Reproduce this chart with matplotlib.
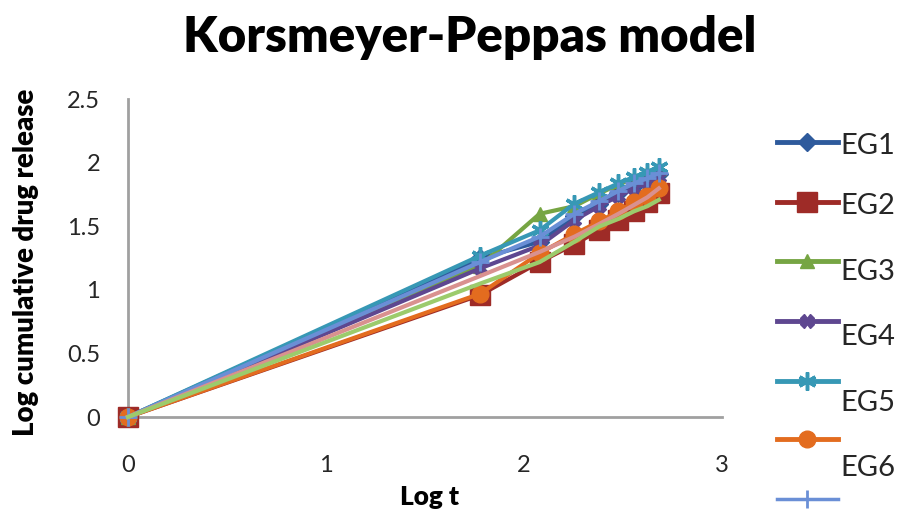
import matplotlib
matplotlib.use("Agg")
import matplotlib.pyplot as plt
from matplotlib.lines import Line2D

# ---- data ----
log_t = [0, 1.778, 2.079, 2.255, 2.380, 2.477, 2.556, 2.623, 2.681]
eg1 = [0, 1.25, 1.38, 1.58, 1.68, 1.76, 1.82, 1.87, 1.91]
eg2 = [0, 0.96, 1.22, 1.36, 1.47, 1.55, 1.62, 1.69, 1.76]
eg3 = [0, 1.19, 1.60, 1.66, 1.76, 1.83, 1.88, 1.92, 1.96]
eg4 = [0, 1.17, 1.35, 1.55, 1.66, 1.74, 1.80, 1.85, 1.89]
eg5 = [0, 1.27, 1.47, 1.68, 1.77, 1.84, 1.89, 1.93, 1.97]
eg6 = [0, 0.97, 1.29, 1.44, 1.54, 1.62, 1.69, 1.74, 1.80]
eg7 = [0, 1.22, 1.42, 1.60, 1.70, 1.78, 1.84, 1.88, 1.92]
extra_pink = [0, 1.11, 1.30, 1.42, 1.52, 1.60, 1.67, 1.73, 1.80]
extra_green = [0, 1.05, 1.22, 1.38, 1.50, 1.56, 1.62, 1.66, 1.71]

labels = ["EG1", "EG2", "EG3", "EG4", "EG5", "EG6", ""]
x_ticks = [0, 1, 2, 3]
y_ticks = [0, 0.5, 1, 1.5, 2, 2.5]
y_tick_labels = ["0", "0.5", "1", "1.5", "2", "2.5"]

W, H = 901, 522
fig = plt.figure(figsize=(W / 100, H / 100), dpi=100)
FONT = "Lato"
TXT = "#262626"

def fx(x):
    return x / W

def fy(y):
    return 1 - y / H

ax = fig.add_axes([fx(128), fy(417), fx(722) - fx(128), fy(99.5) - fy(417)])

styles = [
    dict(color="#2E5A9C", marker="D", ms=9),
    dict(color="#9E2B27", marker="s", ms=14),
    dict(color="#76A543", marker="^", ms=10),
    dict(color="#5E4790", marker="X", ms=10),
    dict(color="#3798B5", marker=(6, 2, 0), ms=13, mew=2.5),
    dict(color="#E36C1F", marker="o", ms=12),
    dict(color="#6A8FD6", marker="+", ms=13, mew=2),
]
series = [eg1, eg2, eg3, eg4, eg5, eg6, eg7]

for vals, st in zip(series, styles):
    kw = dict(st)
    ax.plot(log_t, vals, lw=3, color=kw.pop("color"), marker=kw.pop("marker"),
            ms=kw.pop("ms"), **kw)
ax.plot(log_t, extra_pink, lw=3, color="#D9918F")
ax.plot(log_t, extra_green, lw=3, color="#9CCB6C")

ax.set_xlim(0, 3)
ax.set_ylim(0, 2.5)
ax.set_xticks(x_ticks)
ax.set_yticks(y_ticks)
ax.set_yticklabels(y_tick_labels)
for s in ["top", "right"]:
    ax.spines[s].set_visible(False)
for s in ["left", "bottom"]:
    ax.spines[s].set_color("#A0A0A0")
    ax.spines[s].set_linewidth(2)
    ax.spines[s].set_zorder(0)
ax.tick_params(length=0, labelsize=17, colors=TXT)
ax.tick_params(axis="y", pad=20)
ax.tick_params(axis="x", pad=27)
for lab in ax.get_xticklabels() + ax.get_yticklabels():
    lab.set_fontfamily(FONT)
for ln in ax.get_lines():
    ln.set_clip_on(False)

fig.canvas.draw()
renderer = fig.canvas.get_renderer()

def fitted_text(x, y, s, target, rotation=0, **kw):
    t = fig.text(x, y, s, fontfamily=FONT, fontweight="heavy", rotation=rotation,
                 ha="center", va="center", fontsize=20, **kw)
    bb = t.get_window_extent(renderer)
    size = bb.height if rotation else bb.width
    t.set_fontsize(20 * target / size)
    return t

fitted_text(fx(470), fy(38), "Korsmeyer-Peppas model", 574, color="black")
fitted_text(fx(26), fy(262), "Log cumulative drug release", 348, rotation=90, color="black")
fitted_text(fx(430), fy(497), "Log t", 59, color="black")

# ---- legend (manual, partially cut like reference) ----
line_y = [142, 202, 261, 321, 381, 439, 499]
text_y = [146, 206, 272, 337, 403, 468, 533]
for i, st in enumerate(styles):
    kw = dict(st)
    col = kw.pop("color")
    mk = kw.pop("marker")
    ms = kw.pop("ms")
    lw = 2.5 if i == 6 else 3.5
    fig.add_artist(Line2D([fx(777), fx(838)], [fy(line_y[i])] * 2, color=col, lw=lw,
                          transform=fig.transFigure))
    fig.add_artist(Line2D([fx(807)], [fy(line_y[i])], color=col, marker=mk, ms=ms,
                          transform=fig.transFigure, **kw))
    if labels[i]:
        fig.text(fx(840), fy(text_y[i]), labels[i], fontfamily=FONT, fontsize=21,
                 color=TXT, ha="left", va="center")

fig.savefig("out.png", dpi=100)
